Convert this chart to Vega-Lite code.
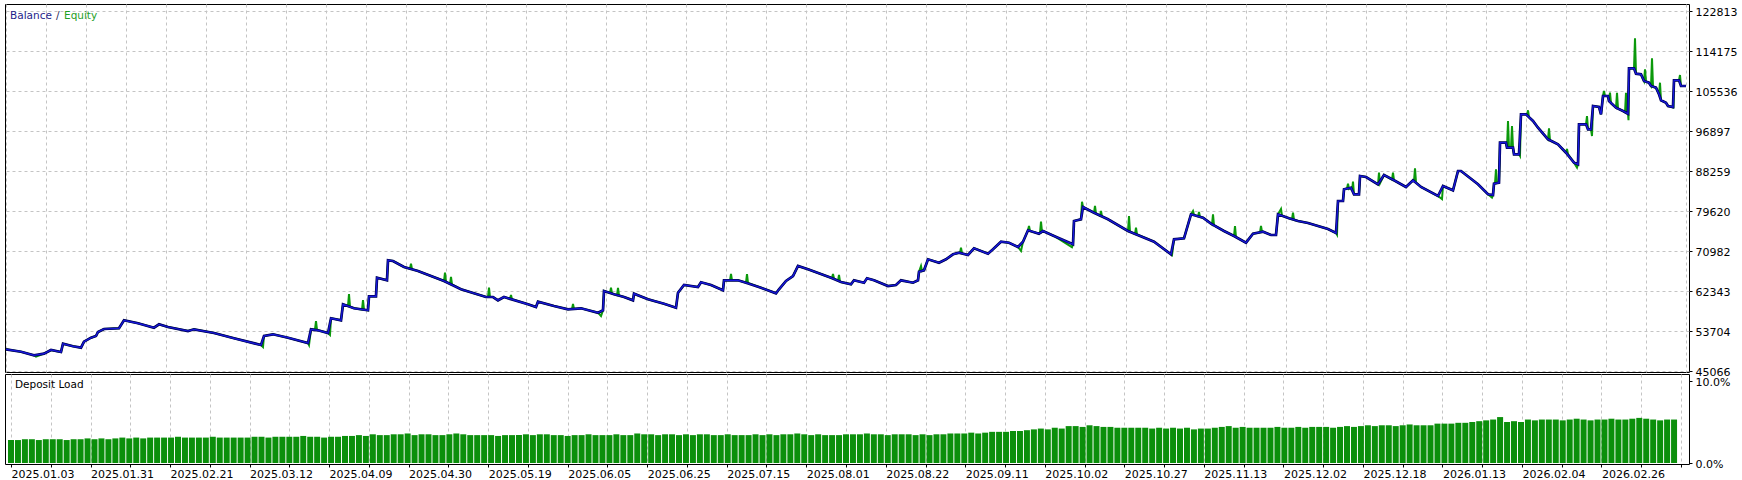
{
"$schema": "https://vega.github.io/schema/vega-lite/v6.json",
"padding": {"left": 4, "top": 3, "right": 0, "bottom": 0},
"autosize": {"type": "pad"},
"background": "white",
"spacing": 2,
"bounds": "flush",
"config": {
  "view": {"stroke": "#000", "strokeWidth": 1},
  "axis": {"labelFont": "DejaVu Sans", "labelFontSize": 11, "labelColor": "#000", "tickColor": "#000", "gridColor": "#c4c4c4", "gridDash": [3, 3], "gridWidth": 1, "domain": false}
},
"datasets": {
"bal": [
{"n":0,"b":49752},{"n":15,"b":49233},{"n":28,"b":48456},{"n":38,"b":48801},{"n":45,"b":49600},{"n":55,"b":49168},{"n":57,"b":50961},{"n":67,"b":50400},{"n":75,"b":50097},{"n":78,"b":51393},
{"n":85,"b":52257},{"n":90,"b":52624},{"n":92,"b":53488},{"n":98,"b":54136},{"n":113,"b":54287},{"n":118,"b":56014},{"n":132,"b":55366},{"n":148,"b":54417},{"n":153,"b":55151},{"n":162,"b":54568},
{"n":182,"b":53704},{"n":188,"b":54071},{"n":208,"b":53272},{"n":228,"b":52127},{"n":255,"b":50680},{"n":258,"b":52624},{"n":267,"b":52991},{"n":282,"b":52257},{"n":302,"b":51112},{"n":305,"b":54071},
{"n":312,"b":53855},{"n":322,"b":53272},{"n":325,"b":56447},{"n":335,"b":56014},{"n":337,"b":59470},{"n":348,"b":58606},{"n":362,"b":58174},{"n":363,"b":61198},{"n":370,"b":61198},{"n":371,"b":65215},
{"n":381,"b":64653},{"n":382,"b":68973},{"n":387,"b":68822},{"n":398,"b":67526},{"n":412,"b":66662},{"n":425,"b":65582},{"n":438,"b":64502},{"n":455,"b":62710},{"n":480,"b":61047},{"n":487,"b":61047},
{"n":492,"b":60334},{"n":498,"b":61047},{"n":522,"b":59470},{"n":530,"b":58887},{"n":532,"b":60032},{"n":548,"b":59103},{"n":562,"b":58390},{"n":575,"b":58606},{"n":592,"b":57656},{"n":597,"b":58174},
{"n":598,"b":62343},{"n":608,"b":61630},{"n":618,"b":61047},{"n":627,"b":60334},{"n":628,"b":61760},{"n":642,"b":60550},{"n":658,"b":59601},{"n":670,"b":58736},{"n":672,"b":61976},{"n":678,"b":63639},
{"n":692,"b":63207},{"n":695,"b":64222},{"n":705,"b":63639},{"n":717,"b":62494},{"n":718,"b":64653},{"n":732,"b":64653},{"n":740,"b":64135},{"n":755,"b":63055},{"n":770,"b":61846},{"n":773,"b":62710},
{"n":780,"b":64502},{"n":787,"b":65582},{"n":792,"b":67742},{"n":802,"b":67029},{"n":825,"b":65215},{"n":835,"b":64287},{"n":845,"b":63790},{"n":848,"b":64653},{"n":858,"b":64135},{"n":861,"b":65085},
{"n":868,"b":64653},{"n":882,"b":63423},{"n":890,"b":63639},{"n":895,"b":64653},{"n":907,"b":64135},{"n":912,"b":64653},{"n":913,"b":66511},{"n":918,"b":66813},{"n":922,"b":69189},{"n":933,"b":68455},
{"n":940,"b":69189},{"n":947,"b":70269},{"n":953,"b":70614},{"n":962,"b":70118},{"n":968,"b":71564},{"n":982,"b":70398},{"n":987,"b":71349},{"n":995,"b":72990},{"n":1003,"b":72774},{"n":1012,"b":71845},
{"n":1017,"b":72990},{"n":1022,"b":75452},{"n":1033,"b":74718},{"n":1037,"b":75301},{"n":1048,"b":74221},{"n":1067,"b":72428},{"n":1068,"b":77461},{"n":1075,"b":77828},{"n":1077,"b":80484},{"n":1088,"b":79253},
{"n":1102,"b":77828},{"n":1122,"b":75301},{"n":1148,"b":72990},{"n":1165,"b":70269},{"n":1168,"b":73508},{"n":1178,"b":73724},{"n":1185,"b":78908},{"n":1197,"b":78173},{"n":1205,"b":76877},{"n":1218,"b":75301},
{"n":1228,"b":74221},{"n":1240,"b":72774},{"n":1247,"b":74718},{"n":1257,"b":75150},{"n":1265,"b":74437},{"n":1270,"b":74437},{"n":1272,"b":78908},{"n":1283,"b":78044},{"n":1292,"b":77461},{"n":1302,"b":77029},
{"n":1312,"b":76381},{"n":1322,"b":75733},{"n":1330,"b":74869},{"n":1332,"b":81780},{"n":1337,"b":81780},{"n":1338,"b":84307},{"n":1345,"b":84652},{"n":1348,"b":83227},{"n":1353,"b":83227},{"n":1354,"b":87179},
{"n":1360,"b":86963},{"n":1372,"b":85387},{"n":1378,"b":87395},{"n":1388,"b":86251},{"n":1400,"b":84804},{"n":1407,"b":86251},{"n":1415,"b":84804},{"n":1432,"b":82860},{"n":1437,"b":85020},{"n":1447,"b":84091},
{"n":1452,"b":88259},{"n":1455,"b":88259},{"n":1472,"b":85387},{"n":1482,"b":83227},{"n":1487,"b":83076},{"n":1488,"b":85516},{"n":1493,"b":85732},{"n":1494,"b":94371},{"n":1500,"b":94371},{"n":1501,"b":93291},
{"n":1507,"b":93291},{"n":1508,"b":91866},{"n":1513,"b":91866},{"n":1515,"b":100505},{"n":1520,"b":100505},{"n":1527,"b":99058},{"n":1532,"b":97611},{"n":1542,"b":95105},{"n":1552,"b":94026},{"n":1560,"b":92211},
{"n":1568,"b":90052},{"n":1572,"b":89706},{"n":1573,"b":98345},{"n":1580,"b":98345},{"n":1582,"b":97265},{"n":1585,"b":97265},{"n":1587,"b":102297},{"n":1593,"b":102081},{"n":1595,"b":100505},{"n":1597,"b":104457},
{"n":1602,"b":104457},{"n":1603,"b":103377},{"n":1610,"b":101930},{"n":1617,"b":101217},{"n":1622,"b":100634},{"n":1623,"b":110439},{"n":1628,"b":110439},{"n":1630,"b":109273},{"n":1635,"b":109143},{"n":1638,"b":107696},
{"n":1643,"b":107329},{"n":1645,"b":106617},{"n":1650,"b":106249},{"n":1653,"b":104824},{"n":1655,"b":103528},{"n":1660,"b":103010},{"n":1662,"b":102297},{"n":1667,"b":102081},{"n":1668,"b":107848},{"n":1673,"b":107848},
{"n":1675,"b":106617},{"n":1680,"b":106617},
{"n":30,"e":48150},{"n":257,"e":50250},{"n":303,"e":50680},{"n":309,"e":54050},{"n":310,"e":55864},{"n":311,"e":53950},{"n":324,"e":52840},
{"n":342,"e":59100},{"n":343,"e":61695},{"n":344,"e":59000},{"n":356,"e":58340},{"n":357,"e":60399},{"n":358,"e":58300},
{"n":404,"e":67150},{"n":405,"e":68239},{"n":406,"e":67030},{"n":439,"e":66295},{"n":440,"e":64350},{"n":444,"e":63880},{"n":445,"e":65366},{"n":446,"e":63760},
{"n":482,"e":61047},{"n":483,"e":63055},{"n":484,"e":61047},{"n":504,"e":60650},{"n":505,"e":61479},{"n":506,"e":60580},{"n":566,"e":58470},{"n":567,"e":59535},{"n":568,"e":58480},
{"n":595,"e":56943},{"n":604,"e":61900},{"n":605,"e":63055},{"n":606,"e":61800},{"n":611,"e":61450},{"n":612,"e":62991},{"n":613,"e":61370},
{"n":724,"e":64653},{"n":725,"e":66014},{"n":726,"e":64653},{"n":741,"e":66014},{"n":742,"e":64060},{"n":826,"e":65130},{"n":827,"e":66014},{"n":828,"e":65040},
{"n":832,"e":64560},{"n":833,"e":65798},{"n":834,"e":64420},{"n":915,"e":67742},{"n":916,"e":66650},{"n":954,"e":70550},{"n":955,"e":71694},{"n":956,"e":70450},
{"n":1015,"e":70981},{"n":1023,"e":76381},{"n":1024,"e":75300},{"n":1034,"e":74900},{"n":1035,"e":77309},{"n":1036,"e":75100},{"n":1066,"e":71800},{"n":1076,"e":81629},
{"n":1089,"e":80700},{"n":1090,"e":79050},{"n":1094,"e":78600},{"n":1095,"e":79620},{"n":1096,"e":78450},{"n":1123,"e":78540},{"n":1124,"e":75150},
{"n":1129,"e":74650},{"n":1130,"e":76014},{"n":1131,"e":74550},{"n":1166,"e":70100},{"n":1187,"e":79620},{"n":1188,"e":78800},{"n":1192,"e":78450},{"n":1193,"e":79404},{"n":1194,"e":78350},
{"n":1206,"e":76700},{"n":1207,"e":78908},{"n":1208,"e":76500},{"n":1229,"e":76381},{"n":1230,"e":74000},{"n":1254,"e":75000},{"n":1255,"e":76381},{"n":1256,"e":75100},
{"n":1275,"e":80052},{"n":1276,"e":78600},{"n":1286,"e":77850},{"n":1287,"e":79253},{"n":1288,"e":77700},{"n":1331,"e":74500},
{"n":1341,"e":84500},{"n":1342,"e":85516},{"n":1343,"e":84400},{"n":1346,"e":84000},{"n":1347,"e":85948},{"n":1373,"e":87892},{"n":1374,"e":85600},{"n":1386,"e":86400},{"n":1387,"e":87892},
{"n":1408,"e":86100},{"n":1409,"e":88842},{"n":1410,"e":85800},{"n":1436,"e":82200},{"n":1486,"e":82500},{"n":1489,"e":85580},{"n":1490,"e":88626},{"n":1491,"e":85650},
{"n":1502,"e":99058},{"n":1503,"e":93291},{"n":1505,"e":93291},{"n":1506,"e":97978},{"n":1514,"e":91500},{"n":1521,"e":100300},{"n":1522,"e":101368},{"n":1523,"e":99900},
{"n":1543,"e":97481},{"n":1544,"e":94900},{"n":1561,"e":93010},{"n":1562,"e":91900},{"n":1571,"e":89000},{"n":1581,"e":100137},{"n":1586,"e":95818},
{"n":1598,"e":105537},{"n":1599,"e":104457},{"n":1604,"e":105170},{"n":1605,"e":102900},{"n":1611,"e":105170},{"n":1612,"e":101800},{"n":1619,"e":100900},{"n":1620,"e":105170},{"n":1621,"e":100700},
{"n":1622.5,"e":99209},{"n":1629,"e":116918},{"n":1639,"e":110223},{"n":1640,"e":107600},{"n":1646,"e":112599},{"n":1647,"e":106500},{"n":1654,"e":107329},{"n":1667.5,"e":101800},{"n":1674,"e":108992}
],
"dl": [
{"n":0,"d":2.8},{"n":7,"d":2.8},{"n":14,"d":2.9},{"n":21,"d":2.9},{"n":28,"d":2.8},{"n":35,"d":2.9},{"n":42,"d":2.9},{"n":49,"d":2.9},{"n":56,"d":2.8},{"n":63,"d":2.9},
{"n":70,"d":2.9},{"n":77,"d":3.0},{"n":84,"d":2.9},{"n":91,"d":3.0},{"n":98,"d":2.9},{"n":105,"d":3.0},{"n":112,"d":3.1},{"n":119,"d":3.0},{"n":126,"d":3.1},{"n":133,"d":3.0},
{"n":140,"d":3.1},{"n":147,"d":3.1},{"n":154,"d":3.1},{"n":161,"d":3.1},{"n":168,"d":3.2},{"n":175,"d":3.1},{"n":182,"d":3.1},{"n":189,"d":3.1},{"n":196,"d":3.1},{"n":203,"d":3.2},
{"n":210,"d":3.1},{"n":217,"d":3.1},{"n":224,"d":3.1},{"n":231,"d":3.1},{"n":238,"d":3.1},{"n":245,"d":3.2},{"n":252,"d":3.2},{"n":259,"d":3.1},{"n":266,"d":3.2},{"n":273,"d":3.2},
{"n":280,"d":3.2},{"n":287,"d":3.2},{"n":294,"d":3.3},{"n":301,"d":3.2},{"n":308,"d":3.2},{"n":315,"d":3.1},{"n":322,"d":3.2},{"n":329,"d":3.2},{"n":336,"d":3.3},{"n":343,"d":3.3},
{"n":350,"d":3.4},{"n":357,"d":3.3},{"n":364,"d":3.5},{"n":371,"d":3.4},{"n":378,"d":3.4},{"n":385,"d":3.5},{"n":392,"d":3.5},{"n":399,"d":3.6},{"n":406,"d":3.4},{"n":413,"d":3.5},
{"n":420,"d":3.5},{"n":427,"d":3.4},{"n":434,"d":3.4},{"n":441,"d":3.5},{"n":448,"d":3.6},{"n":455,"d":3.5},{"n":462,"d":3.4},{"n":469,"d":3.4},{"n":476,"d":3.4},{"n":483,"d":3.4},
{"n":490,"d":3.3},{"n":497,"d":3.4},{"n":504,"d":3.4},{"n":511,"d":3.4},{"n":518,"d":3.5},{"n":525,"d":3.4},{"n":532,"d":3.5},{"n":539,"d":3.5},{"n":546,"d":3.4},{"n":553,"d":3.4},
{"n":560,"d":3.3},{"n":567,"d":3.4},{"n":574,"d":3.4},{"n":581,"d":3.5},{"n":588,"d":3.4},{"n":595,"d":3.4},{"n":602,"d":3.4},{"n":609,"d":3.5},{"n":616,"d":3.4},{"n":623,"d":3.4},
{"n":630,"d":3.6},{"n":637,"d":3.5},{"n":644,"d":3.5},{"n":651,"d":3.4},{"n":658,"d":3.5},{"n":665,"d":3.5},{"n":672,"d":3.4},{"n":679,"d":3.5},{"n":686,"d":3.4},{"n":693,"d":3.5},
{"n":700,"d":3.5},{"n":707,"d":3.4},{"n":714,"d":3.4},{"n":721,"d":3.5},{"n":728,"d":3.4},{"n":735,"d":3.4},{"n":742,"d":3.4},{"n":749,"d":3.5},{"n":756,"d":3.4},{"n":763,"d":3.5},
{"n":770,"d":3.4},{"n":777,"d":3.5},{"n":784,"d":3.5},{"n":791,"d":3.6},{"n":798,"d":3.5},{"n":805,"d":3.4},{"n":812,"d":3.5},{"n":819,"d":3.4},{"n":826,"d":3.4},{"n":833,"d":3.4},
{"n":840,"d":3.5},{"n":847,"d":3.5},{"n":854,"d":3.5},{"n":861,"d":3.6},{"n":868,"d":3.5},{"n":875,"d":3.5},{"n":882,"d":3.4},{"n":889,"d":3.5},{"n":896,"d":3.5},{"n":903,"d":3.5},
{"n":910,"d":3.4},{"n":917,"d":3.5},{"n":924,"d":3.4},{"n":931,"d":3.5},{"n":938,"d":3.5},{"n":945,"d":3.6},{"n":952,"d":3.6},{"n":959,"d":3.6},{"n":966,"d":3.7},{"n":973,"d":3.6},
{"n":980,"d":3.7},{"n":987,"d":3.8},{"n":994,"d":3.8},{"n":1001,"d":3.8},{"n":1008,"d":3.9},{"n":1015,"d":3.9},{"n":1022,"d":4.0},{"n":1029,"d":4.1},{"n":1036,"d":4.2},{"n":1043,"d":4.1},
{"n":1050,"d":4.3},{"n":1057,"d":4.2},{"n":1064,"d":4.5},{"n":1071,"d":4.5},{"n":1078,"d":4.4},{"n":1085,"d":4.6},{"n":1092,"d":4.5},{"n":1099,"d":4.4},{"n":1106,"d":4.4},{"n":1113,"d":4.3},
{"n":1120,"d":4.3},{"n":1127,"d":4.3},{"n":1134,"d":4.3},{"n":1141,"d":4.3},{"n":1148,"d":4.2},{"n":1155,"d":4.3},{"n":1162,"d":4.2},{"n":1169,"d":4.3},{"n":1176,"d":4.2},{"n":1183,"d":4.3},
{"n":1190,"d":4.1},{"n":1197,"d":4.2},{"n":1204,"d":4.2},{"n":1211,"d":4.3},{"n":1218,"d":4.4},{"n":1225,"d":4.5},{"n":1232,"d":4.3},{"n":1239,"d":4.4},{"n":1246,"d":4.3},{"n":1253,"d":4.3},
{"n":1260,"d":4.3},{"n":1267,"d":4.3},{"n":1274,"d":4.4},{"n":1281,"d":4.3},{"n":1288,"d":4.3},{"n":1295,"d":4.4},{"n":1302,"d":4.3},{"n":1309,"d":4.4},{"n":1316,"d":4.4},{"n":1323,"d":4.4},
{"n":1330,"d":4.3},{"n":1337,"d":4.4},{"n":1344,"d":4.5},{"n":1351,"d":4.4},{"n":1358,"d":4.5},{"n":1365,"d":4.6},{"n":1372,"d":4.5},{"n":1379,"d":4.6},{"n":1386,"d":4.6},{"n":1393,"d":4.5},
{"n":1400,"d":4.6},{"n":1407,"d":4.7},{"n":1414,"d":4.6},{"n":1421,"d":4.6},{"n":1428,"d":4.6},{"n":1435,"d":4.8},{"n":1442,"d":4.8},{"n":1449,"d":4.8},{"n":1456,"d":4.9},{"n":1463,"d":4.9},
{"n":1470,"d":5.0},{"n":1477,"d":5.1},{"n":1484,"d":5.2},{"n":1491,"d":5.3},{"n":1498,"d":5.6},{"n":1505,"d":5.0},{"n":1512,"d":5.1},{"n":1519,"d":5.0},{"n":1526,"d":5.3},{"n":1533,"d":5.2},
{"n":1540,"d":5.3},{"n":1547,"d":5.3},{"n":1554,"d":5.3},{"n":1561,"d":5.2},{"n":1568,"d":5.3},{"n":1575,"d":5.4},{"n":1582,"d":5.3},{"n":1589,"d":5.2},{"n":1596,"d":5.3},{"n":1603,"d":5.3},
{"n":1610,"d":5.4},{"n":1617,"d":5.3},{"n":1624,"d":5.3},{"n":1631,"d":5.4},{"n":1638,"d":5.5},{"n":1645,"d":5.4},{"n":1652,"d":5.3},{"n":1659,"d":5.2},{"n":1666,"d":5.3},{"n":1673,"d":5.3}
]
},
"vconcat": [
{
  "width": 1684, "height": 368,
  "resolve": {"axis": {"x": "independent", "y": "independent"}},
  "layer": [
    {
      "data": {"name": "bal"},
      "transform": [{"fold": ["b", "e"], "as": ["k", "v"]}, {"filter": "isValid(datum.v) && isFinite(datum.v)"}],
      "mark": {"type": "line", "color": "#0b990b", "strokeWidth": 2, "clip": true},
      "encoding": {
        "x": {"field": "n", "type": "quantitative", "scale": {"domain": [-1, 1683], "nice": false, "zero": false},
              "axis": {"title": null, "values": [0,40,80,120,160,200,240,280,320,360,400,440,480,520,560,600,640,680,720,760,800,840,880,920,960,1000,1040,1080,1120,1160,1200,1240,1280,1320,1360,1400,1440,1480,1520,1560,1600,1640,1680], "grid": true, "labels": false, "ticks": false}},
        "y": {"field": "v", "type": "quantitative", "scale": {"domain": [44849, 124326], "nice": false, "zero": false},
              "axis": {"title": null, "orient": "right", "values": [45066,53704,62343,70982,79620,88259,96897,105536,114175,122813], "format": "d", "grid": true, "tickSize": 3, "labelPadding": 3, "labelBaseline": "middle", "labelOffset": 1.5}}
      }
    },
    {
      "data": {"name": "bal"},
      "transform": [{"filter": "isValid(datum.b)"}],
      "mark": {"type": "line", "color": "#00005e", "strokeWidth": 2.7, "clip": true},
      "encoding": {
        "x": {"field": "n", "type": "quantitative", "scale": {"domain": [-1, 1683], "nice": false, "zero": false}, "axis": null},
        "y": {"field": "b", "type": "quantitative", "scale": {"domain": [44849, 124326], "nice": false, "zero": false}, "axis": null}
      }
    },
    {
      "data": {"name": "bal"},
      "transform": [{"filter": "isValid(datum.b)"}],
      "mark": {"type": "line", "color": "#1818e0", "strokeWidth": 1.2, "clip": true},
      "encoding": {
        "x": {"field": "n", "type": "quantitative", "scale": {"domain": [-1, 1683], "nice": false, "zero": false}, "axis": null},
        "y": {"field": "b", "type": "quantitative", "scale": {"domain": [44849, 124326], "nice": false, "zero": false}, "axis": null}
      }
    },
    {
      "data": {"values": [{}]},
      "mark": {"type": "text", "text": "Balance", "align": "left", "baseline": "alphabetic", "font": "DejaVu Sans", "fontSize": 10.5, "color": "#1e1e8a"},
      "encoding": {
        "x": {"datum": 4, "type": "quantitative", "scale": {"domain": [-1, 1683], "nice": false, "zero": false}, "axis": null},
        "y": {"datum": 121100, "type": "quantitative", "scale": {"domain": [44849, 124326], "nice": false, "zero": false}, "axis": null}
      }
    },
    {
      "data": {"values": [{}]},
      "mark": {"type": "text", "text": "/", "align": "left", "baseline": "alphabetic", "font": "DejaVu Sans", "fontSize": 10.5, "color": "#2a2a5a"},
      "encoding": {
        "x": {"datum": 50, "type": "quantitative", "scale": {"domain": [-1, 1683], "nice": false, "zero": false}, "axis": null},
        "y": {"datum": 121100, "type": "quantitative", "scale": {"domain": [44849, 124326], "nice": false, "zero": false}, "axis": null}
      }
    },
    {
      "data": {"values": [{}]},
      "mark": {"type": "text", "text": "Equity", "align": "left", "baseline": "alphabetic", "font": "DejaVu Sans", "fontSize": 10.5, "color": "#1fa01f"},
      "encoding": {
        "x": {"datum": 58, "type": "quantitative", "scale": {"domain": [-1, 1683], "nice": false, "zero": false}, "axis": null},
        "y": {"datum": 121100, "type": "quantitative", "scale": {"domain": [44849, 124326], "nice": false, "zero": false}, "axis": null}
      }
    }
  ]
},
{
  "width": 1684, "height": 90,
  "resolve": {"axis": {"x": "independent", "y": "independent"}},
  "layer": [
    {
      "data": {"name": "dl"},
      "mark": {"type": "bar", "color": "#0b8f0b", "width": 6},
      "encoding": {
        "x": {"field": "n", "type": "quantitative", "scale": {"domain": [-1, 1683], "nice": false, "zero": false},
              "axis": {"title": null, "orient": "bottom", "grid": true, "values": [0,40,80,120,160,200,240,280,320,360,400,440,480,520,560,600,640,680,720,760,800,840,880,920,960,1000,1040,1080,1120,1160,1200,1240,1280,1320,1360,1400,1440,1480,1520,1560,1600,1640,1680], "tickSize": 3, "labelAlign": "left", "labelBaseline": "top", "labelPadding": 1, "labelFlush": false, "labelOverlap": false, "labelBound": false,
                "labelExpr": "datum.value % 80 == 0 ? ['2025.01.03','2025.01.31','2025.02.21','2025.03.12','2025.04.09','2025.04.30','2025.05.19','2025.06.05','2025.06.25','2025.07.15','2025.08.01','2025.08.22','2025.09.11','2025.10.02','2025.10.27','2025.11.13','2025.12.02','2025.12.18','2026.01.13','2026.02.04','2026.02.26'][round(datum.value/80)] : ''"}},
        "y": {"field": "d", "type": "quantitative", "scale": {"domain": [-0.12, 10.85], "nice": false, "zero": false},
              "axis": {"title": null, "orient": "right", "values": [0, 10], "grid": false, "tickSize": 3, "labelPadding": 3, "labelBaseline": "middle", "labelOffset": 1.5, "labelExpr": "format(datum.value, '.1f') + '%'"}}
      }
    },
    {
      "data": {"values": [{}]},
      "mark": {"type": "text", "text": "Deposit Load", "align": "left", "baseline": "alphabetic", "font": "DejaVu Sans", "fontSize": 10.5, "color": "#000"},
      "encoding": {
        "x": {"datum": 4, "type": "quantitative", "scale": {"domain": [-1, 1683], "nice": false, "zero": false}, "axis": null},
        "y": {"datum": 9.2, "type": "quantitative", "scale": {"domain": [-0.12, 10.85], "nice": false, "zero": false}, "axis": null}
      }
    }
  ]
}
]
}
